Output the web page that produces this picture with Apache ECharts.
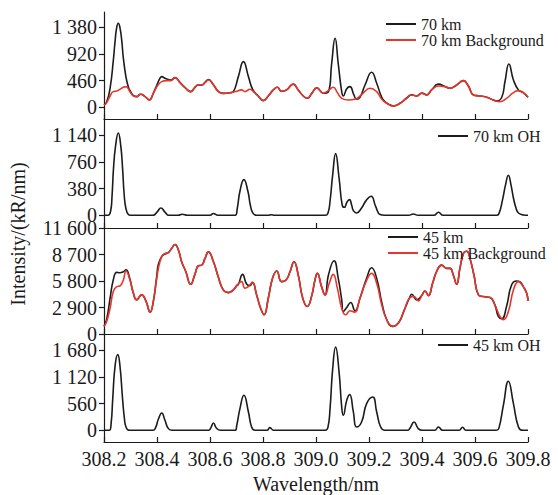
<!DOCTYPE html>
<html>
<head>
<meta charset="utf-8">
<script src="https://cdn.jsdelivr.net/npm/echarts@6/dist/echarts.min.js"></script>
<style>html,body{margin:0;padding:0;background:#fff;}#c{width:558px;height:495px;}</style>
</head>
<body>
<div id="c"></div>
<script>
// ---- data: [wavelength (nm), intensity (kR/nm)] ----
const xTicks = [308.2, 308.4, 308.6, 308.8, 309.0, 309.2, 309.4, 309.6, 309.8];
const yTicks70 = [0, 460, 920, 1380];
const yTicks70OH = [0, 380, 760, 1140];
const yTicks45 = [0, 2900, 5800, 8700, 11600];
const yTicks45OH = [0, 560, 1120, 1680];

const total70 = [[308.200,40],[308.210,90],[308.223,330],[308.235,800],[308.242,1150],[308.248,1380],[308.254,1450],[308.260,1380],[308.267,1150],[308.273,850],[308.283,520],[308.292,350],[308.298,290],[308.311,200],[308.323,184],[308.338,225],[308.355,184],[308.371,126],[308.386,240],[308.401,400],[308.411,500],[308.418,529],[308.430,500],[308.443,480],[308.452,470],[308.468,512],[308.487,425],[308.506,340],[308.527,270],[308.543,345],[308.556,385],[308.569,385],[308.581,430],[308.594,480],[308.613,390],[308.631,276],[308.650,240],[308.675,250],[308.688,270],[308.707,529],[308.726,788],[308.745,529],[308.761,310],[308.782,195],[308.801,115],[308.820,195],[308.839,300],[308.854,345],[308.870,276],[308.889,300],[308.914,400],[308.933,300],[308.952,195],[308.967,155],[308.984,240],[309.003,335],[309.028,243],[309.047,270],[309.059,750],[309.072,1190],[309.084,750],[309.097,270],[309.103,196],[309.116,320],[309.128,357],[309.143,213],[309.153,138],[309.166,173],[309.185,385],[309.210,604],[309.229,414],[309.248,173],[309.260,100],[309.275,50],[309.292,23],[309.317,69],[309.342,160],[309.361,215],[309.380,196],[309.399,245],[309.418,215],[309.436,300],[309.462,400],[309.487,360],[309.506,328],[309.531,385],[309.556,460],[309.575,368],[309.594,213],[309.619,196],[309.644,173],[309.669,127],[309.682,110],[309.701,173],[309.713,440],[309.728,748],[309.745,472],[309.764,300],[309.782,253],[309.800,173]];

const bg70 = [[308.200,40],[308.210,80],[308.223,195],[308.235,270],[308.248,280],[308.260,310],[308.273,345],[308.283,356],[308.298,270],[308.311,195],[308.323,184],[308.338,225],[308.355,184],[308.371,126],[308.386,240],[308.401,368],[308.418,443],[308.436,460],[308.452,460],[308.468,512],[308.487,425],[308.506,340],[308.527,270],[308.543,345],[308.556,385],[308.569,385],[308.581,425],[308.594,470],[308.613,385],[308.631,276],[308.650,240],[308.675,250],[308.701,276],[308.719,300],[308.732,270],[308.751,310],[308.764,270],[308.782,195],[308.801,115],[308.820,195],[308.839,300],[308.854,345],[308.870,276],[308.889,300],[308.914,400],[308.933,300],[308.952,195],[308.967,155],[308.984,240],[309.003,335],[309.028,243],[309.047,290],[309.065,345],[309.081,250],[309.097,155],[309.122,126],[309.147,138],[309.175,230],[309.204,328],[309.229,270],[309.248,138],[309.267,69],[309.292,23],[309.317,69],[309.342,155],[309.361,213],[309.380,196],[309.399,241],[309.418,213],[309.436,299],[309.462,368],[309.487,357],[309.506,328],[309.531,385],[309.556,460],[309.575,368],[309.594,213],[309.619,196],[309.644,173],[309.669,127],[309.694,98],[309.719,155],[309.745,253],[309.764,288],[309.782,253],[309.800,173]];

const oh70 = [[308.200,0],[308.215,0],[308.225,60],[308.230,250],[308.236,675],[308.244,1000],[308.254,1173],[308.263,1000],[308.270,675],[308.276,300],[308.283,90],[308.292,10],[308.300,0],[308.385,0],[308.400,45],[308.415,104],[308.430,45],[308.445,0],[308.480,0],[308.495,15],[308.515,0],[308.600,0],[308.613,25],[308.630,0],[308.695,0],[308.703,100],[308.713,342],[308.728,508],[308.743,342],[308.752,150],[308.762,30],[308.775,0],[308.820,0],[308.830,8],[308.845,0],[309.035,0],[309.045,30],[309.053,200],[309.063,580],[309.074,879],[309.087,532],[309.099,143],[309.107,114],[309.117,190],[309.126,223],[309.135,140],[309.141,67],[309.153,33],[309.172,105],[309.189,209],[309.208,271],[309.225,128],[309.242,10],[309.260,0],[309.350,0],[309.367,19],[309.385,0],[309.445,0],[309.462,43],[309.480,0],[309.680,0],[309.690,20],[309.704,223],[309.715,430],[309.726,570],[309.736,430],[309.745,247],[309.755,100],[309.764,33],[309.782,5],[309.800,0]];

const total45 = [[308.200,834],[308.210,1600],[308.223,3915],[308.235,5909],[308.248,6743],[308.260,6706],[308.273,6815],[308.283,7033],[308.296,6200],[308.311,4459],[308.323,3734],[308.342,4278],[308.358,3625],[308.374,2393],[308.386,3553],[308.399,6300],[308.405,7600],[308.418,8500],[308.430,8750],[308.443,8918],[308.455,9353],[308.468,9788],[308.481,9171],[308.493,7903],[308.509,6815],[308.527,5438],[308.543,6525],[308.556,7468],[308.569,7540],[308.581,8265],[308.594,8990],[308.613,7903],[308.631,6271],[308.650,4821],[308.669,4531],[308.688,4821],[308.701,5293],[308.707,5438],[308.723,6525],[308.738,5473],[308.751,5293],[308.760,5655],[308.776,4278],[308.791,2828],[308.804,2103],[308.820,3915],[308.836,6090],[308.852,6888],[308.870,5728],[308.887,5909],[308.902,6815],[308.917,7903],[308.933,6453],[308.950,3915],[308.967,3009],[308.984,4200],[308.996,5900],[309.005,6634],[309.021,5184],[309.034,4278],[309.047,6453],[309.068,8011],[309.084,6090],[309.097,3734],[309.103,2465],[309.116,2900],[309.131,3444],[309.147,2538],[309.166,3915],[309.191,6090],[309.210,7250],[309.229,6090],[309.248,3480],[309.267,1559],[309.289,834],[309.311,1196],[309.332,2538],[309.355,4100],[309.361,4350],[309.380,3733],[309.399,4205],[309.411,4713],[309.424,4205],[309.440,5546],[309.455,6815],[309.474,7540],[309.493,7178],[309.506,7178],[309.518,6453],[309.531,5438],[309.543,7178],[309.558,8918],[309.569,9063],[309.581,8265],[309.596,6453],[309.613,4278],[309.631,4096],[309.657,3988],[309.675,3190],[309.688,1921],[309.701,1668],[309.719,3009],[309.738,5365],[309.757,5800],[309.770,5700],[309.782,5184],[309.795,4459],[309.800,3600]];

const bg45 = [[308.200,834],[308.210,1378],[308.223,2828],[308.235,4640],[308.248,5184],[308.260,5256],[308.273,5909],[308.283,6888],[308.296,6090],[308.311,4459],[308.323,3734],[308.342,4278],[308.358,3625],[308.374,2393],[308.386,3553],[308.399,6090],[308.411,7903],[308.424,8700],[308.443,8918],[308.455,9353],[308.468,9788],[308.481,9171],[308.493,7903],[308.509,6815],[308.527,5438],[308.543,6525],[308.556,7468],[308.569,7540],[308.581,8265],[308.594,8990],[308.613,7903],[308.631,6271],[308.650,4821],[308.669,4531],[308.688,4821],[308.701,5293],[308.719,5728],[308.732,5003],[308.745,5184],[308.760,5655],[308.776,4278],[308.791,2828],[308.804,2103],[308.820,3915],[308.836,6090],[308.852,6888],[308.870,5728],[308.887,5909],[308.902,6815],[308.917,7903],[308.933,6453],[308.950,3915],[308.967,3009],[308.984,4200],[308.996,5900],[309.005,6634],[309.021,5184],[309.034,4278],[309.050,5546],[309.065,6525],[309.081,4966],[309.097,2828],[309.112,2103],[309.128,2538],[309.145,2393],[309.166,3915],[309.189,5728],[309.210,6634],[309.229,5546],[309.248,3190],[309.267,1559],[309.289,834],[309.311,1196],[309.332,2538],[309.355,3988],[309.370,4096],[309.386,3625],[309.399,4205],[309.411,4713],[309.424,4205],[309.440,5546],[309.455,6815],[309.474,7540],[309.493,7178],[309.506,7178],[309.518,6453],[309.531,5438],[309.543,7178],[309.558,8918],[309.569,9063],[309.581,8265],[309.596,6453],[309.613,4278],[309.631,4096],[309.657,3988],[309.675,3190],[309.694,1921],[309.707,1559],[309.726,2465],[309.745,4821],[309.764,5728],[309.782,5184],[309.795,4459],[309.800,3600]];

const oh45 = [[308.200,0],[308.220,0],[308.227,150],[308.233,665],[308.242,1365],[308.252,1589],[308.260,1365],[308.270,665],[308.277,250],[308.283,70],[308.295,0],[308.385,0],[308.395,60],[308.405,231],[308.418,364],[308.430,210],[308.443,35],[308.458,0],[308.595,0],[308.603,50],[308.613,154],[308.625,40],[308.640,0],[308.695,0],[308.701,105],[308.713,455],[308.728,735],[308.745,385],[308.757,70],[308.770,0],[308.815,0],[308.826,56],[308.840,0],[309.035,0],[309.045,60],[309.053,455],[309.063,1295],[309.074,1750],[309.087,1225],[309.097,490],[309.103,315],[309.116,630],[309.127,749],[309.141,385],[309.153,70],[309.172,175],[309.191,560],[309.214,700],[309.229,385],[309.244,70],[309.260,0],[309.345,0],[309.355,49],[309.370,175],[309.386,35],[309.400,0],[309.448,0],[309.462,70],[309.478,0],[309.540,0],[309.553,63],[309.566,0],[309.680,0],[309.690,40],[309.707,525],[309.726,1029],[309.745,560],[309.764,70],[309.780,0],[309.800,0]];

// ---- chart ----
const FONT = '"Liberation Serif", "Times New Roman", serif';
const AXC = '#1a1a1a';
const BLACK = '#1c1c1c';
const RED = '#e8352c';

const grids = [
  {left: 104, right: 30, top: 12, height: 107},
  {left: 104, right: 30, top: 119, height: 109},
  {left: 104, right: 30, top: 228, height: 106},
  {left: 104, right: 30, top: 334, height: 108}
];
const yRanges = [[-202, 1644], [-181, 1372], [0, 11600], [-246, 2022]];
const yTickSets = [yTicks70, yTicks70OH, yTicks45, yTicks45OH];

function fmtThousands(v) {
  return String(Math.round(v)).replace(/\B(?=(\d{3})+(?!\d))/g, ' ');
}

const xAxes = grids.map((g, i) => ({
  type: 'value', gridIndex: i, min: xTicks[0], max: xTicks[xTicks.length - 1],
  axisLine: {show: true, onZero: false, lineStyle: {color: AXC, width: 1.2}},
  axisTick: {show: true, inside: true, length: 5, customValues: xTicks, lineStyle: {color: AXC, width: 1.2}},
  axisLabel: {show: i === 3, customValues: xTicks, formatter: v => Number(v).toFixed(1),
    fontFamily: FONT, fontSize: 20, color: AXC, margin: 7},
  splitLine: {show: false}
}));

const yAxes = grids.map((g, i) => ({
  type: 'value', gridIndex: i, min: yRanges[i][0], max: yRanges[i][1],
  axisLine: {show: true, lineStyle: {color: AXC, width: 1.2}},
  axisTick: {show: true, length: 5, customValues: yTickSets[i], lineStyle: {color: AXC, width: 1.2}},
  axisLabel: {show: true, customValues: yTickSets[i], formatter: fmtThousands,
    fontFamily: FONT, fontSize: 20, lineHeight: 12, color: AXC, margin: 7},
  splitLine: {show: false}
}));

function line(name, data, idx, color) {
  return {
    name, type: 'line', data, xAxisIndex: idx, yAxisIndex: idx,
    showSymbol: false, symbol: 'none', smooth: 0.5,
    lineStyle: {color, width: 1.6}, itemStyle: {color}, clip: true
  };
}

const legendBase = {
  orient: 'vertical', icon: 'rect', itemWidth: 30, itemHeight: 2, itemGap: 0, padding: 0,
  textStyle: {fontFamily: FONT, fontSize: 16, lineHeight: 16, color: AXC},
  selectedMode: false
};

const option = {
  animation: false,
  backgroundColor: '#fff',
  grid: grids,
  xAxis: xAxes,
  yAxis: yAxes,
  legend: [
    Object.assign({}, legendBase, {data: ['70 km', '70 km Background'], left: 386, top: 16}),
    Object.assign({}, legendBase, {data: ['70 km OH'], left: 438, top: 128}),
    Object.assign({}, legendBase, {data: ['45 km', '45 km Background'], left: 388, top: 229}),
    Object.assign({}, legendBase, {data: ['45 km OH'], left: 438, top: 337})
  ],
  series: [
    line('70 km', total70, 0, BLACK),
    line('70 km Background', bg70, 0, RED),
    line('70 km OH', oh70, 1, BLACK),
    line('45 km', total45, 2, BLACK),
    line('45 km Background', bg45, 2, RED),
    line('45 km OH', oh45, 3, BLACK)
  ],
  graphic: [
    {type: 'text', x: 18, y: 234, rotation: Math.PI / 2,
      style: {text: 'Intensity/(kR/nm)', fontFamily: FONT, fontSize: 20, fill: AXC, align: 'center', verticalAlign: 'middle'}},
    {type: 'text', x: 316, y: 484,
      style: {text: 'Wavelength/nm', fontFamily: FONT, fontSize: 20, fill: AXC, align: 'center', verticalAlign: 'middle'}}
  ]
};

const chart = echarts.init(document.getElementById('c'), null, {renderer: 'svg', width: 558, height: 495});
chart.setOption(option);
</script>
</body>
</html>
